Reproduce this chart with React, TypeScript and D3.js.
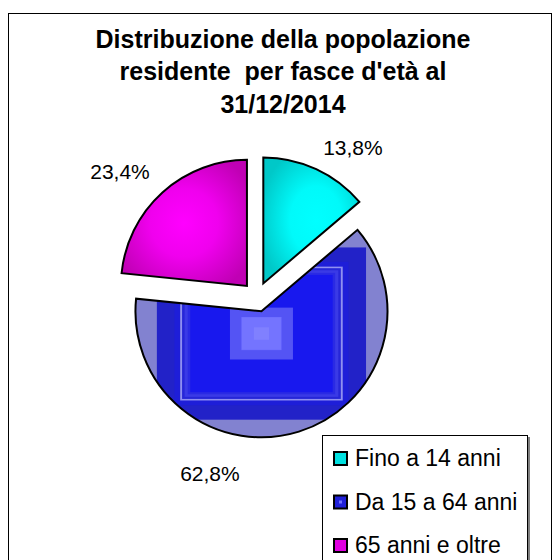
import React from 'react';
import * as d3 from 'd3';

const categories = ['Fino a 14 anni', 'Da 15 a 64 anni', '65 anni e oltre'];
const values = [13.8, 62.8, 23.4];
const valueLabels = ['13,8%', '62,8%', '23,4%'];
const titleLines = ['Distribuzione della popolazione', "residente  per fasce d'età al", '31/12/2014'];

// label placement (angle in degrees clockwise from 12 o'clock, distance from pie centre)
const labelAngles = [32.6, 194.9, 312.4];
const labelRadii = [178, 183, 185.5];

// rectangular-gradient bands of the large slice: [fraction of half box, colour]
const blueBands: [number, string][] = [
  [1.0, '#8282d0'],
  [0.83, '#2222c8'],
  [0.69, '#1e1ed8'],
  [0.645, '#9090f0'],
  [0.63, '#2626d8'],
  [0.61, '#3a3ae6'],
  [0.585, '#2a2ae4'],
  [0.565, '#1818ee'],
  [0.25, '#5454f4'],
  [0.16, '#6a6aff'],
  [0.155, '#7474ff'],
  [0.06, '#8080ff'],
];

const W = 554;
const H = 560;
const CX = 257;
const CY = 297;
const R = 126;
const EXPLODE = 15;
const FONT = '"Liberation Sans", Arial, Helvetica, sans-serif';

export default function App() {
  const pieData = d3.pie<number>().sort(null).value((d) => d)(values);
  const arc = d3.arc<d3.PieArcDatum<number>>().innerRadius(0).outerRadius(R);

  const slices = pieData.map((p, i) => {
    const mid = (p.startAngle + p.endAngle) / 2;
    const dx = EXPLODE * Math.sin(mid);
    const dy = -EXPLODE * Math.cos(mid);
    const pts: [number, number][] = [[0, 0]];
    for (let k = 0; k <= 200; k++) {
      const a = p.startAngle + ((p.endAngle - p.startAngle) * k) / 200;
      pts.push([R * Math.sin(a), -R * Math.cos(a)]);
    }
    const x0 = d3.min(pts, (q) => q[0]) as number;
    const x1 = d3.max(pts, (q) => q[0]) as number;
    const y0 = d3.min(pts, (q) => q[1]) as number;
    const y1 = d3.max(pts, (q) => q[1]) as number;
    return { p, i, dx, dy, d: arc(p) as string, bb: { x0, x1, y0, y1 } };
  });

  const fills = ['url(#gCyan)', 'url(#gBlue)', 'url(#gMag)'];
  const swatch = ['#00e0e0', '#2020d8', '#e000e0'];

  return (
    <svg
      width={W}
      height={H}
      style={{ position: 'absolute', left: 0, top: 0, background: '#fff' }}
      fontFamily={FONT}
    >
      <defs>
        <radialGradient id="gCyan" cx="0.55" cy="0.5" r="0.6">
          <stop offset="0" stopColor="#00ffff" />
          <stop offset="0.45" stopColor="#00fafa" />
          <stop offset="1" stopColor="#00c8c8" />
        </radialGradient>
        <radialGradient id="gMag" cx="0.5" cy="0.5" r="0.6">
          <stop offset="0" stopColor="#ff00ff" />
          <stop offset="0.45" stopColor="#f000ee" />
          <stop offset="1" stopColor="#c000b4" />
        </radialGradient>
        <clipPath id="clipBlue">
          <path d={slices[1].d} />
        </clipPath>
      </defs>

      <rect x={8.5} y={13.5} width={543} height={600} fill="#fff" stroke="#000" strokeWidth={1} />

      {titleLines.map((t, k) => (
        <text
          key={k}
          x={283}
          y={47.5 + k * 32.5}
          textAnchor="middle"
          fontWeight="bold"
          fontSize={25}
          fill="#000"
          style={{ whiteSpace: 'pre' }}
        >
          {t}
        </text>
      ))}

      {slices.map((s) => {
        const bcx = (s.bb.x0 + s.bb.x1) / 2;
        const bcy = (s.bb.y0 + s.bb.y1) / 2;
        const hw = (s.bb.x1 - s.bb.x0) / 2;
        const hh = (s.bb.y1 - s.bb.y0) / 2;
        return (
          <g key={s.i} transform={`translate(${CX + s.dx},${CY + s.dy})`}>
            {s.i === 1 ? (
              <g clipPath="url(#clipBlue)">
                {blueBands.map(([f, c], k) => (
                  <rect
                    key={k}
                    x={bcx - f * hw}
                    y={bcy - f * hh}
                    width={2 * f * hw}
                    height={2 * f * hh}
                    fill={c}
                  />
                ))}
              </g>
            ) : (
              <path d={s.d} fill={fills[s.i]} />
            )}
            <path d={s.d} fill="none" stroke="#000" strokeWidth={2} strokeLinejoin="miter" />
          </g>
        );
      })}

      {valueLabels.map((t, i) => {
        const a = (labelAngles[i] * Math.PI) / 180;
        return (
          <text
            key={i}
            x={CX + labelRadii[i] * Math.sin(a)}
            y={CY - labelRadii[i] * Math.cos(a)}
            textAnchor="middle"
            dominantBaseline="central"
            fontSize={21}
            fill="#000"
          >
            {t}
          </text>
        );
      })}

      <g>
        <rect x={322.5} y={435.5} width={205} height={160} fill="#fff" stroke="#000" strokeWidth={1} />
        <line x1={529} y1={437} x2={529} y2={H} stroke="#808080" strokeWidth={2} />
        {categories.map((c, i) => {
          const y = 466 + i * 43.5;
          return (
            <g key={i}>
              <rect x={334} y={y - 14} width={13} height={13} fill={swatch[i]} stroke="#000" strokeWidth={2} />
              {i === 1 && <rect x={339} y={y - 9} width={3} height={3} fill="#7070ff" />}
              <text x={355} y={y} fontSize={23} fill="#000">
                {c}
              </text>
            </g>
          );
        })}
      </g>
    </svg>
  );
}
